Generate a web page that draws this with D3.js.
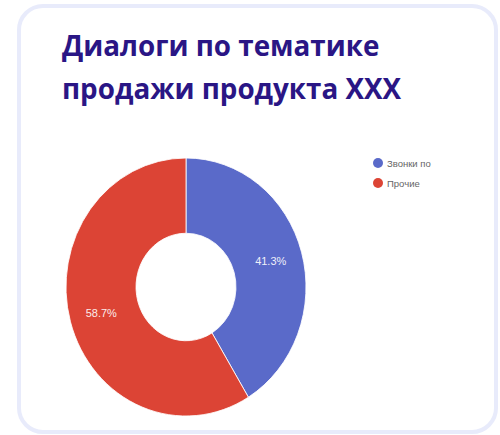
<!DOCTYPE html>
<html><head><meta charset="utf-8">
<script src="https://cdn.jsdelivr.net/npm/d3@7"></script>
<style>body{margin:0;background:#fff;}svg{display:block;}</style>
</head><body><svg id="c" width="500" height="435"></svg>
<script>
const titleLines = ["Диалоги по тематике", "продажи продукта XXX"];
const categories = ["Звонки по", "Прочие"];
const values = [41.3, 58.7];
const colors = ["#5a6ac9", "#dc4435"];

const svg = d3.select("#c");
svg.append("rect").attr("x", 19).attr("y", 6).attr("width", 477).attr("height", 426)
  .attr("rx", 24).attr("fill", "#fff").attr("stroke", "#e8ebfb").attr("stroke-width", 4);

svg.selectAll("text.title").data(titleLines).join("text").attr("class", "title")
  .attr("x", 62).attr("y", (d, i) => 56 + i * 43)
  .attr("font-family", "Open Sans, sans-serif").attr("font-weight", 700)
  .attr("font-size", 27.8).attr("fill", "#2a1685").text(d => d);

const cx = 186, cy = 287, R = 120, r = 50, sy = 1.075;
const pie = d3.pie().sort(null).value(d => d)(values);
const arc = d3.arc().innerRadius(r).outerRadius(R);
const g = svg.append("g").attr("transform", `translate(${cx},${cy}) scale(1,${sy})`);
g.selectAll("path").data(pie).join("path").attr("d", arc)
  .attr("fill", (d, i) => colors[i]).attr("stroke", "#fff").attr("stroke-width", 0.8);

const la = d3.arc().innerRadius(88).outerRadius(88);
svg.selectAll("text.lbl").data(pie).join("text").attr("class", "lbl")
  .attr("x", d => cx + la.centroid(d)[0]).attr("y", d => cy + la.centroid(d)[1] * sy + 4)
  .attr("text-anchor", "middle").attr("font-family", "Arial, Liberation Sans, sans-serif")
  .attr("font-size", 11).attr("fill", "#fff").attr("opacity", 0.9)
  .text(d => d.data.toFixed(1) + "%");

const lg = svg.selectAll("g.leg").data(categories).join("g").attr("class", "leg")
  .attr("transform", (d, i) => `translate(378,${163 + i * 20})`);
lg.append("circle").attr("r", 5).attr("fill", (d, i) => colors[i]);
lg.append("text").attr("x", 9).attr("y", 3.5).attr("font-family", "Arial, Liberation Sans, sans-serif")
  .attr("font-size", 9.5).attr("fill", "#666").text(d => d);
</script></body></html>
